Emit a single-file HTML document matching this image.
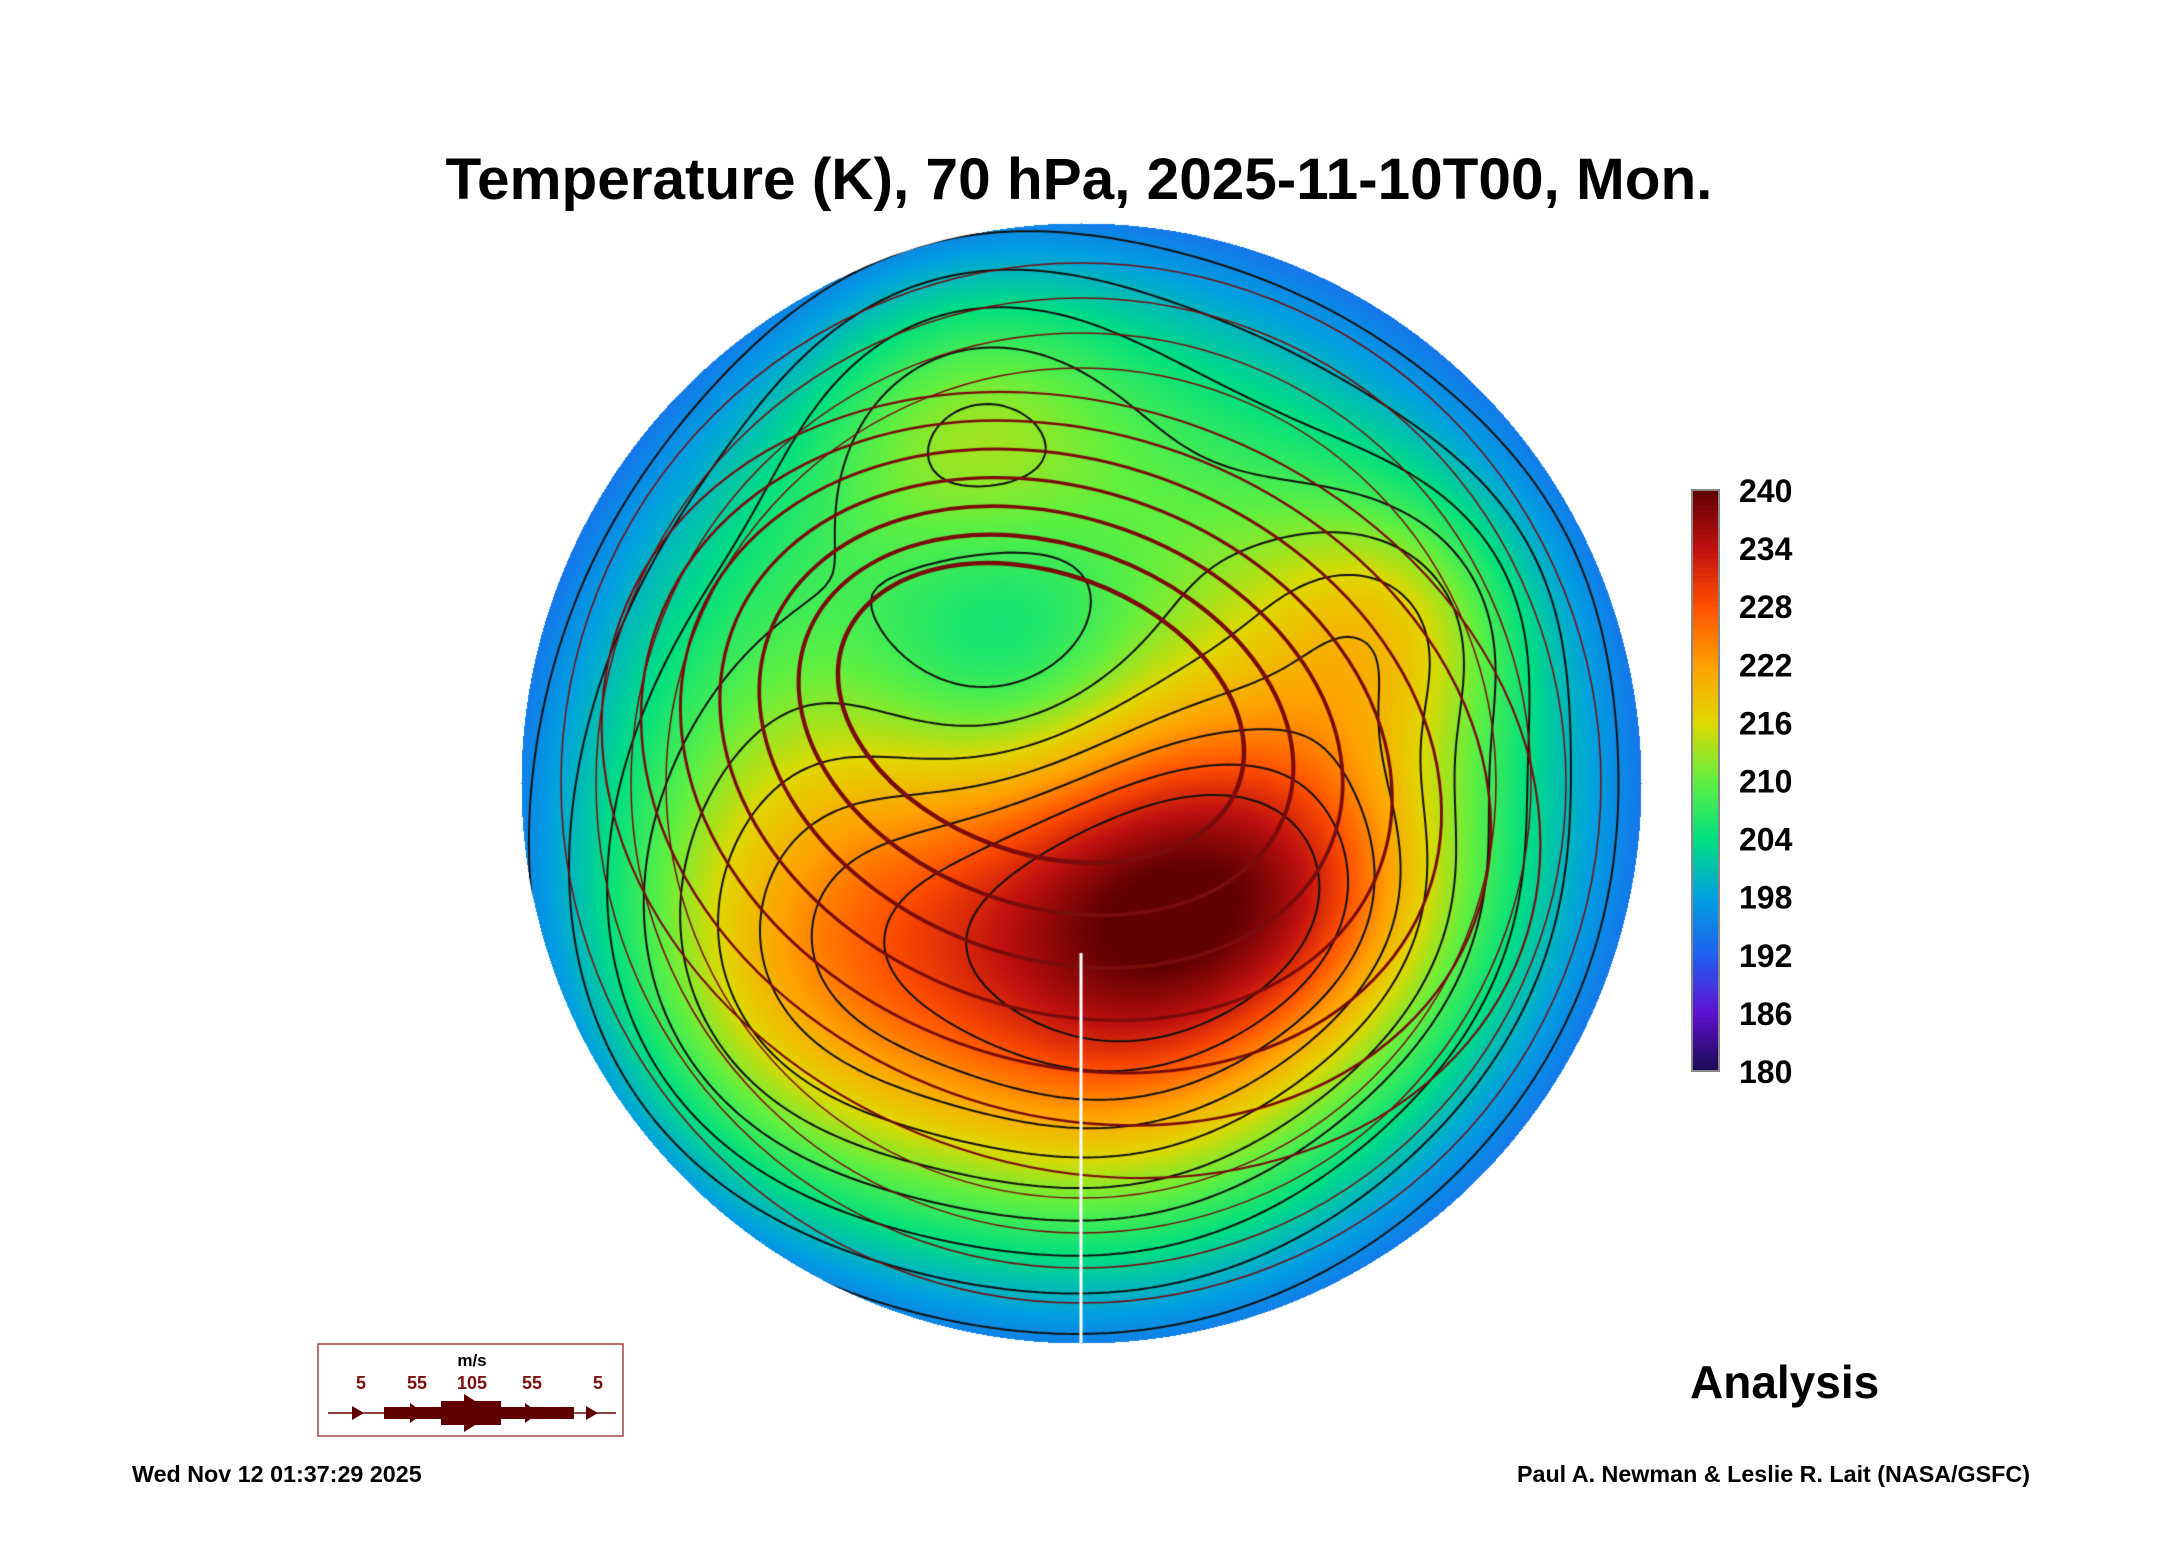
<!DOCTYPE html>
<html><head><meta charset="utf-8"><style>
body{margin:0;background:#fff;width:2165px;height:1561px;position:relative;overflow:hidden;font-family:"Liberation Sans",sans-serif}
.t{position:absolute;font-weight:bold;color:#000;white-space:nowrap}
</style></head><body>
<div class="t" style="left:415px;top:146px;font-size:58.5px;width:1328px;text-align:center">Temperature (K), 70 hPa, 2025-11-10T00, Mon.</div>
<canvas id="map" width="1130" height="1130" style="position:absolute;left:516px;top:218px"></canvas>
<svg id="cb" width="200" height="640" style="position:absolute;left:1680px;top:467px"></svg>
<svg width="310" height="96" style="position:absolute;left:316px;top:1342px">
<rect x="2" y="2" width="305" height="92" fill="#fff" stroke="#a04040" stroke-width="1.5"/>
<text x="156" y="24" font-size="17" font-weight="bold" text-anchor="middle" font-family="Liberation Sans">m/s</text>
<g fill="#7a1010" font-size="18" font-weight="bold" text-anchor="middle" font-family="Liberation Sans">
<text x="45" y="47">5</text><text x="101" y="47">55</text><text x="156" y="47">105</text><text x="216" y="47">55</text><text x="282" y="47">5</text></g>
<g fill="#600000"><line x1="12" y1="71" x2="300" y2="71" stroke="#600000" stroke-width="1.5"/>
<rect x="68" y="65" width="190" height="12"/><rect x="125" y="59" width="60" height="24"/>
<polygon points="36,64 48,71 36,78"/><polygon points="94,61 108,71 94,81"/><polygon points="148,52 178,71 148,90"/><polygon points="209,61 223,71 209,81"/><polygon points="270,64 282,71 270,78"/></g>
</svg>
<div class="t" style="left:1690px;top:1355px;font-size:46px">Analysis</div>
<div class="t" style="left:132px;top:1461px;font-size:23.3px">Wed Nov 12 01:37:29 2025</div>
<div class="t" style="right:135px;top:1461px;font-size:23.3px">Paul A. Newman &amp; Leslie R. Lait (NASA/GSFC)</div>
<script>
const cbTicks=[240,234,228,222,216,210,204,198,192,186,180];
const cmapT=[180,186,192,198,204,210,216,222,228,234,240];
const cmapC=[[26,10,80],[96,16,208],[32,96,240],[0,160,224],[0,224,128],[96,240,64],[224,216,0],[255,160,0],[255,80,0],[192,16,16],[96,0,0]];
const blobU=[0.12,0.4,-0.45,0.55,-0.13,-0.2,0.05];
const blobV=[0.24,0.18,0.33,-0.28,-0.24,-0.64,0.5];
const blobAmp=[18,12,14,10,-12,8,6];
const blobSig=[0.24,0.2,0.28,0.16,0.2,0.2,0.25];
const baseEdge=194, baseRise=22;
const contourLevels=[196,200,204,208,212,216,220,224,228,232];
function col(t){t=Math.max(180,Math.min(240,t));for(let i=0;i<cmapT.length-1;i++){if(t<=cmapT[i+1]){const f=(t-cmapT[i])/(cmapT[i+1]-cmapT[i]);return cmapC[i].map((c,k)=>c+(cmapC[i+1][k]-c)*f);}}return cmapC[10];}
function temp(u,v){const r2=u*u+v*v;let t=baseEdge+baseRise*(1-r2);for(let i=0;i<blobU.length;i++){const du=u-blobU[i],dv=v-blobV[i];t+=blobAmp[i]*Math.exp(-(du*du+dv*dv)/(2*blobSig[i]*blobSig[i]));}return t;}
const cb=document.getElementById('cb'),NS='http://www.w3.org/2000/svg';
const cbTop=23,cbBot=604,cbX=12,cbW=27;
function yOf(t){return cbBot-(t-180)/60*(cbBot-cbTop);}
for(let k=0;k<120;k++){const t0=180+k*0.5;const r=document.createElementNS(NS,'rect');const c=col(t0+0.25);
r.setAttribute('x',cbX);r.setAttribute('y',yOf(t0+0.5));r.setAttribute('width',cbW);r.setAttribute('height',(cbBot-cbTop)/120+0.6);r.setAttribute('fill',`rgb(${c.map(Math.round)})`);


cb.appendChild(r);}
const fr=document.createElementNS(NS,'rect');fr.setAttribute('x',cbX);fr.setAttribute('y',cbTop);fr.setAttribute('width',cbW);fr.setAttribute('height',cbBot-cbTop);fr.setAttribute('fill','none');fr.setAttribute('stroke','#888');fr.setAttribute('stroke-width','2');cb.appendChild(fr);
cbTicks.forEach(t=>{const tx=document.createElementNS(NS,'text');tx.setAttribute('x',59);tx.setAttribute('y',yOf(t)+12);tx.setAttribute('font-size','32');tx.setAttribute('font-weight','bold');tx.setAttribute('font-family','Liberation Sans');tx.textContent=t;


cb.appendChild(tx);});
const cv=document.getElementById('map'),ctx=cv.getContext('2d');const W=1130,R=560,C=565;
const img=ctx.createImageData(W,W);
for(let y=0;y<W;y++)for(let x=0;x<W;x++){const u=(x-C)/R,v=(y-C)/R;if(u*u+v*v>1)continue;const c=col(temp(u,v));const p=(y*W+x)*4;img.data[p]=c[0];img.data[p+1]=c[1];img.data[p+2]=c[2];img.data[p+3]=255;}
ctx.putImageData(img,0,0);
ctx.save();ctx.beginPath();ctx.arc(C,C,R,0,Math.PI*2);ctx.clip();
const N=160,g=[];for(let j=0;j<=N;j++){g[j]=[];for(let i=0;i<=N;i++)g[j][i]=temp(-1+2*i/N,-1+2*j/N);}
const s=2*R/N;ctx.strokeStyle='#111';ctx.lineWidth=2;
contourLevels.forEach(L=>{ctx.beginPath();for(let j=0;j<N;j++)for(let i=0;i<N;i++){const a=g[j][i],b=g[j][i+1],c=g[j+1][i+1],d=g[j+1][i];const pts=[];
const e=(p,q,x1,y1,x2,y2)=>{if((p<L)!==(q<L)){const f=(L-p)/(q-p);pts.push([x1+(x2-x1)*f,y1+(y2-y1)*f]);}};
e(a,b,i,j,i+1,j);e(b,c,i+1,j,i+1,j+1);e(d,c,i,j+1,i+1,j+1);e(a,d,i,j,i,j+1);
for(let k=0;k+1<pts.length;k+=2){ctx.moveTo(C-R+pts[k][0]*s,C-R+pts[k][1]*s);ctx.lineTo(C-R+pts[k+1][0]*s,C-R+pts[k+1][1]*s);}}ctx.stroke();});
ctx.strokeStyle='#7a0c0c';
for(let k=0;k<7;k++){ctx.lineWidth=4.5-k*0.4;ctx.beginPath();ctx.ellipse(C-40+k*5,C-70+k*12,210+k*45,140+k*40,0.35,0,Math.PI*2);ctx.stroke();}
ctx.lineWidth=1.5;for(let k=0;k<4;k++){ctx.beginPath();ctx.arc(C,C,R-40-k*35,0,Math.PI*2);ctx.stroke();}
ctx.strokeStyle='#fff';ctx.lineWidth=3;ctx.beginPath();ctx.moveTo(C,C+170);ctx.lineTo(C,C+R);ctx.stroke();
ctx.restore();
</script>
</body></html>
